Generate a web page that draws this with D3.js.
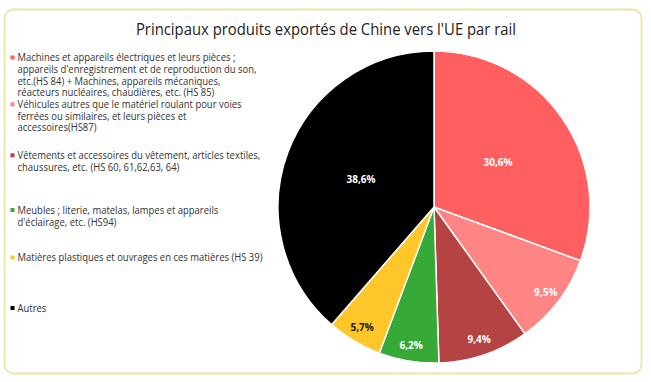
<!DOCTYPE html>
<html><head><meta charset="utf-8">
<script src="https://cdn.jsdelivr.net/npm/d3@7"></script>
<style>body{margin:0;background:#fff}svg{display:block}</style>
</head><body>
<script>
const title = "Principaux produits exportés de Chine vers l'UE par rail";
const categories = [
  ["Machines et appareils électriques et leurs pièces ;","appareils d'enregistrement et de reproduction du son,","etc.(HS 84) + Machines, appareils mécaniques,","réacteurs nucléaires, chaudières, etc. (HS 85)"],
  ["Véhicules autres que le matériel roulant pour voies","ferrées ou similaires, et leurs pièces et","accessoires(HS87)"],
  ["Vêtements et accessoires du vêtement, articles textiles,","chaussures, etc. (HS 60, 61,62,63, 64)"],
  ["Meubles ; literie, matelas, lampes et appareils","d'éclairage, etc. (HS94)"],
  ["Matières plastiques et ouvrages en ces matières (HS 39)"],
  ["Autres"]
];
const values = [30.6, 9.5, 9.4, 6.2, 5.7, 38.6];
const valueLabels = ["30,6%","9,5%","9,4%","6,2%","5,7%","38,6%"];
const colors = ["#FF5F5F","#FF8585","#B54343","#36A936","#FFC62A","#000000"];
const labelColors = ["#fff","#fff","#fff","#fff","#1a1a1a","#fff"];

const W=651,H=382;
const svg=d3.select("body").append("svg").attr("width",W).attr("height",H);
svg.append("rect").attr("x",4.5).attr("y",9.5).attr("width",637).attr("height",364)
  .attr("rx",9).attr("fill","#fff").attr("stroke","#EDE5A6").attr("stroke-width",1.8);

svg.append("text").attr("x",326).attr("y",35).attr("text-anchor","middle")
  .attr("font-family","Open Sans").attr("font-size",16.5).attr("fill","#222")
  .attr("transform","translate(326,0) scale(0.9,1) translate(-326,0)")
  .text(title);

// legend
const legendY=[61.5,108.3,159.3,214,261.5,312];
const lh=11.6;
const lg=svg.append("g").attr("transform","translate(17.5,0) scale(0.92,1)");
categories.forEach((lines,i)=>{
  svg.append("rect").attr("x",10.5).attr("y",legendY[i]-6).attr("width",4).attr("height",4).attr("fill",colors[i]);
  lines.forEach((l,j)=>{
    lg.append("text").attr("x",0).attr("y",legendY[i]+j*lh)
      .attr("font-family","Open Sans").attr("font-size",10.3).attr("fill","#333").text(l);
  });
});

// pie
const cx=434,cy=207,r=156;
const pie=d3.pie().sort(null).value(d=>d);
const arcs=pie(values);
const arc=d3.arc().innerRadius(0).outerRadius(r);
const g=svg.append("g").attr("transform",`translate(${cx},${cy})`);
g.selectAll("path").data(arcs).join("path").attr("d",arc)
  .attr("fill",(d,i)=>colors[i]).attr("stroke","#fff").attr("stroke-width",1.5);
g.selectAll("text").data(arcs).join("text")
  .attr("transform",d=>{
    const f=d.data>20?0.5:0.9;
    const k=(d.startAngle+d.endAngle)/2;
    return `translate(${Math.sin(k)*r*f},${-Math.cos(k)*r*f})`;
  })
  .attr("text-anchor","middle").attr("dy","0.35em")
  .attr("font-family","Open Sans").attr("font-weight","bold").attr("font-size",10)
  .attr("fill",(d,i)=>labelColors[i]).text((d,i)=>valueLabels[i]);
</script>
</body></html>
